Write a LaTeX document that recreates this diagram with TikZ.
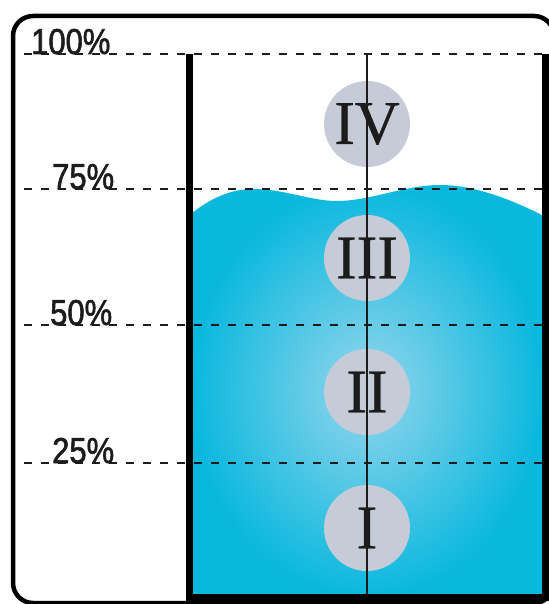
\documentclass[tikz,border=0pt]{standalone}
\usepackage{fontspec}
\setmainfont{Liberation Serif}
\newfontfamily\numfont[FakeBold=0.6]{Liberation Serif}
\newfontfamily\pctfont[FakeStretch=0.86,FakeBold=1.6]{Liberation Sans}
\definecolor{wcyan}{RGB}{10,184,222}
\definecolor{wlight}{RGB}{150,214,236}
\definecolor{disc}{RGB}{197,204,216}
\definecolor{ink}{RGB}{28,28,28}
\begin{document}
\begin{tikzpicture}[x=1pt,y=-1pt,
  levelline/.style={draw=ink,line width=2.2pt,dash pattern=on 8pt off 9pt},
  pct/.style={anchor=base west,inner sep=0pt,text=ink,font=\pctfont\fontsize{36}{36}\selectfont},
  zone/.style={circle,fill=disc,minimum size=86pt,inner sep=0pt},
  numeral/.style={text=ink,font=\numfont\fontsize{62}{62}\selectfont,inner sep=0pt},
  wall/.style={draw=black,line width=7pt,miter limit=10},
  frame/.style={draw=black,line width=4.5pt,rounded corners=20pt}]
\useasboundingbox (0,0) rectangle (548,604);
% water
\shade[inner color=wlight,outer color=wcyan]
  (192,213) .. controls (215,195) and (235,189) .. (253,189)
  .. controls (285,189) and (310,201) .. (337,201)
  .. controls (370,201) and (405,185) .. (440,185)
  .. controls (475,185) and (512,200) .. (542,215)
  -- (542,596) -- (192,596) -- cycle;
% zone discs
\node[zone] (z4) at (367,124) {};
\node[zone] (z3) at (367,258) {};
\node[zone] (z2) at (367,392) {};
\node[zone] (z1) at (367,528) {};
% centre line
\coordinate (ctop) at (367,54);
\coordinate (cbot) at (367,596);
\draw[ink,line width=1.1pt] (ctop) -- (cbot);
% numerals
\node[numeral] (n4) at (z4) {IV};
\node[numeral] (n3) at (z3) {III};
\node[numeral] (n2) at (z2) {II};
\node[numeral] (n1) at (z1) {I};
% level lines
\coordinate (l100a) at (24,54);  \coordinate (l100b) at (548,54);
\coordinate (l75a) at (24,189);  \coordinate (l75b) at (548,189);
\coordinate (l50a) at (24,325);  \coordinate (l50b) at (548,325);
\coordinate (l25a) at (24,463);  \coordinate (l25b) at (548,463);
\draw[levelline] (l100a) -- (l100b);
\draw[levelline] (l75a) -- (l75b);
\draw[levelline] (l50a) -- (l50b);
\draw[levelline] (l25a) -- (l25b);
% container
\coordinate (w1) at (189,54);
\coordinate (w2) at (189,597);
\coordinate (w3) at (545,597);
\coordinate (w4) at (545,54);
\draw[wall] (w1) -- (w2) -- (w3) -- (w4);
% outer frame
\coordinate (fa) at (13,16);
\coordinate (fb) at (554,603);
\draw[frame] (fa) rectangle (fb);
% labels
\node[pct] (p100) at (31,54) {100\%};
\node[pct] (p75) at (52,189) {75\%};
\node[pct] (p50) at (50,325) {50\%};
\node[pct] (p25) at (52,463) {25\%};
\end{tikzpicture}
\end{document}
